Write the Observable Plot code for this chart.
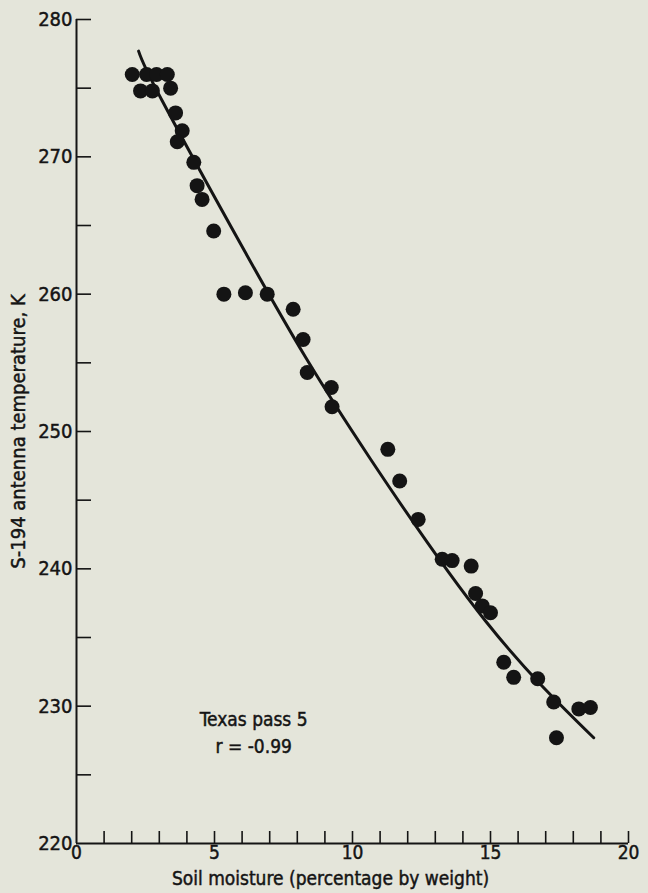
<!DOCTYPE html>
<html>
<head>
<meta charset="utf-8">
<script src="https://cdn.jsdelivr.net/npm/d3@7"></script>
<script src="https://cdn.jsdelivr.net/npm/@observablehq/plot@0.6"></script>
<style>
  html, body { margin: 0; padding: 0; background: #e4e5da; }
  #chart { width: 648px; height: 893px; }
  #chart svg text { paint-order: stroke; stroke: #141414; stroke-width: 0.45px; }
</style>
</head>
<body>
<div id="chart"></div>
<script>
// Soil moisture (% by weight) vs S-194 antenna temperature (K)
const moisture = [2.02, 2.54, 2.90, 3.29, 2.32, 2.75, 3.41, 3.59, 3.83, 3.65,
  4.25, 4.37, 4.55, 4.97, 5.34, 6.12, 6.91, 7.85, 8.21, 8.36,
  9.23, 9.26, 11.28, 11.71, 12.38, 13.25, 13.61, 14.30, 14.46, 14.70,
  15.00, 15.48, 15.84, 16.71, 17.29, 17.39, 18.20, 18.62];
const temperature = [276.0, 276.0, 276.0, 276.0, 274.8, 274.8, 275.0, 273.2, 271.9, 271.1,
  269.6, 267.9, 266.9, 264.6, 260.0, 260.1, 260.0, 258.9, 256.7, 254.3,
  253.2, 251.8, 248.7, 246.4, 243.6, 240.7, 240.6, 240.2, 238.2, 237.3,
  236.8, 233.2, 232.1, 232.0, 230.3, 227.7, 229.8, 229.9];

// fitted curve
const fitX = [2.25, 3.1, 6.1, 8.3, 10.65, 14.82, 18.74];
const fitY = [277.7, 274.1, 263.1, 255.4, 248.0, 236.2, 227.7];

const xMajorTicks = [0, 5, 10, 15, 20];
const xMinorTicks = d3.range(1, 21);
const yMajorTicks = [220, 230, 240, 250, 260, 270, 280];
const yMinorTicks = [225, 230, 235, 240, 245, 250, 255, 260, 265, 270, 275, 280];

const xTitle = ["Soil moisture (percentage by weight)"];
const yTitle = ["S-194 antenna temperature, K"];

const noteText = ["Texas pass 5\nr = -0.99"];
const noteX = [6.42];
const noteY = [228.2];

const points = moisture.map((m, i) => ({x: m, y: temperature[i]}));
const fit = fitX.map((v, i) => ({x: v, y: fitY[i]}));
const notes = noteText.map((t, i) => ({t, x: noteX[i], y: noteY[i]}));

const ink = "#141414";
const font = "'DejaVu Sans Condensed', 'Liberation Sans Narrow', sans-serif";

const W = 648, H = 893, mL = 76, mR = 20, mT = 19, mB = 50;
const frameW = W - mL - mR, frameH = H - mT - mB;

const chart = Plot.plot({
  width: W,
  height: H,
  marginLeft: mL,
  marginRight: mR,
  marginTop: mT,
  marginBottom: mB,
  style: {background: "#e4e5da", fontFamily: font, fontSize: "20px", color: ink},
  x: {domain: [0, 20]},
  y: {domain: [220, 280]},
  marks: [
    // inward tick marks
    Plot.tickX(xMinorTicks, {x: d => d, insetTop: frameH - 12, stroke: ink, strokeWidth: 1.6}),
    Plot.tickY(yMinorTicks, {y: d => d, insetRight: frameW - 15, stroke: ink, strokeWidth: 1.6}),
    // tick labels
    Plot.axisX({ticks: xMajorTicks, tickSize: 0, tickPadding: 2, fontSize: 19, label: null}),
    Plot.axisY({ticks: yMajorTicks, tickSize: 0, tickPadding: 4, fontSize: 20, label: null}),
    // axis titles
    Plot.text(xTitle, {text: d => d, frameAnchor: "bottom", dx: -22, dy: 41, fontSize: 19, fill: ink}),
    Plot.text(yTitle, {text: d => d, frameAnchor: "left", textAnchor: "middle", dx: -58, rotate: -90, fontSize: 20, fill: ink}),
    // axis lines
    Plot.ruleX([0], {stroke: ink, strokeWidth: 2}),
    Plot.ruleY([220], {stroke: ink, strokeWidth: 2}),
    // data
    Plot.line(fit, {x: "x", y: "y", curve: "natural", stroke: ink, strokeWidth: 3}),
    Plot.dot(points, {x: "x", y: "y", r: 7.5, fill: ink, stroke: "none"}),
    Plot.text(notes, {x: "x", y: "y", text: "t", fontSize: 19, lineHeight: 1.45, fill: ink, textAnchor: "middle"})
  ]
});
document.getElementById("chart").appendChild(chart);
</script>
</body>
</html>
